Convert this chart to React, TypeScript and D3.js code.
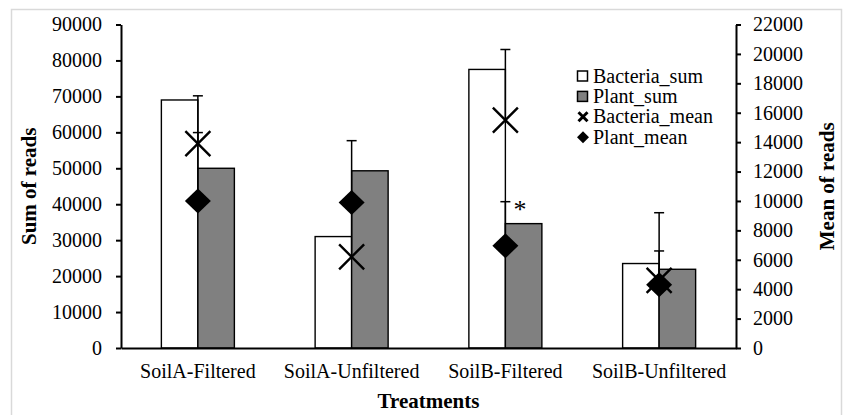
import { useEffect, useRef } from "react";
import * as d3 from "d3";

const categories = ["SoilA-Filtered", "SoilA-Unfiltered", "SoilB-Filtered", "SoilB-Unfiltered"];
const bacteriaSum = [69000, 31000, 77500, 23500];
const plantSum = [50000, 49300, 34600, 21900];
const bacteriaMean = [13900, 6200, 15500, 4600];
const plantMean = [10000, 9900, 6950, 4300];
const bacteriaErr = [3250, 3500, 4800, 4600];
const plantErr = [4650, 4200, 3000, 2300];
const leftTicks = [0, 10000, 20000, 30000, 40000, 50000, 60000, 70000, 80000, 90000];
const rightTicks = [0, 2000, 4000, 6000, 8000, 10000, 12000, 14000, 16000, 18000, 20000, 22000];
const legendLabels = ["Bacteria_sum", "Plant_sum", "Bacteria_mean", "Plant_mean"];

export default function App() {
  const ref = useRef<HTMLDivElement>(null);

  useEffect(() => {
    if (!ref.current) return;
    d3.select(ref.current).selectAll("*").remove();

    const W = 845;
    const H = 415;
    const plot = { left: 121, right: 736, top: 24.5, bottom: 348 };
    const font = "'Liberation Serif', 'Times New Roman', serif";

    const svg = d3
      .select(ref.current)
      .append("svg")
      .attr("width", W)
      .attr("height", H)
      .style("display", "block")
      .style("background", "#fff");

    // chart frame
    svg
      .append("rect")
      .attr("x", 11.5)
      .attr("y", 9.5)
      .attr("width", 830)
      .attr("height", 412)
      .attr("fill", "#fff")
      .attr("stroke", "#d9d9d9")
      .attr("stroke-width", 1.5);

    const x = d3.scaleBand<string>().domain(categories).range([plot.left, plot.right]);
    const yL = d3.scaleLinear().domain([0, 90000]).range([plot.bottom, plot.top]);
    const yR = d3.scaleLinear().domain([0, 22000]).range([plot.bottom, plot.top]);
    const barW = 36.5;
    const cx = (i: number) => (x(categories[i]) || 0) + x.bandwidth() / 2;

    // bars
    const bars = svg.append("g").attr("stroke", "#000").attr("stroke-width", 1.4);
    bars
      .selectAll("rect.b")
      .data(bacteriaSum)
      .enter()
      .append("rect")
      .attr("class", "b")
      .attr("x", (_, i) => cx(i) - barW)
      .attr("y", (d) => yL(d))
      .attr("width", barW)
      .attr("height", (d) => plot.bottom - yL(d))
      .attr("fill", "#fff");
    bars
      .selectAll("rect.p")
      .data(plantSum)
      .enter()
      .append("rect")
      .attr("class", "p")
      .attr("x", (_, i) => cx(i))
      .attr("y", (d) => yL(d))
      .attr("width", barW)
      .attr("height", (d) => plot.bottom - yL(d))
      .attr("fill", "#808080");

    // error bars (plus direction)
    const err = svg.append("g").attr("stroke", "#000").attr("stroke-width", 1.5);
    const drawErr = (means: number[], errs: number[]) => {
      means.forEach((m, i) => {
        const top = yR(m + errs[i]);
        err.append("line").attr("x1", cx(i)).attr("x2", cx(i)).attr("y1", yR(m)).attr("y2", top);
        err.append("line").attr("x1", cx(i) - 5).attr("x2", cx(i) + 5).attr("y1", top).attr("y2", top);
      });
    };
    drawErr(bacteriaMean, bacteriaErr);
    drawErr(plantMean, plantErr);

    // axes
    const fmt = d3.format("d");
    const axL = svg
      .append("g")
      .attr("transform", `translate(${plot.left},0)`)
      .call(d3.axisLeft(yL).tickValues(leftTicks).tickFormat(fmt).tickSize(5).tickSizeOuter(0).tickPadding(14));
    const axR = svg
      .append("g")
      .attr("transform", `translate(${plot.right},0)`)
      .call(d3.axisRight(yR).tickValues(rightTicks).tickFormat(fmt).tickSize(5).tickSizeOuter(0).tickPadding(12));
    const axB = svg
      .append("g")
      .attr("transform", `translate(0,${plot.bottom})`)
      .call(d3.axisBottom(x).tickSize(0).tickSizeOuter(0).tickPadding(16));
    [axL, axR, axB].forEach((a) => {
      a.selectAll("path,line").attr("stroke", "#000").attr("stroke-width", 2);
      a.selectAll("text").attr("fill", "#000").style("font-family", font).style("font-size", "20px");
    });

    // markers
    const xMark = (s: number) => `M${-s},${-s}L${s},${s}M${-s},${s}L${s},${-s}`;
    const diamond = (w: number, h: number) => `M0,${-h}L${w},0L0,${h}L${-w},0Z`;
    svg
      .append("g")
      .selectAll("path")
      .data(bacteriaMean)
      .enter()
      .append("path")
      .attr("transform", (d, i) => `translate(${cx(i)},${yR(d)})`)
      .attr("d", xMark(12.5))
      .attr("stroke", "#000")
      .attr("stroke-width", 2.4)
      .attr("fill", "none");
    svg
      .append("g")
      .selectAll("path")
      .data(plantMean)
      .enter()
      .append("path")
      .attr("transform", (d, i) => `translate(${cx(i)},${yR(d)})`)
      .attr("d", diamond(13, 12.5))
      .attr("fill", "#000");

    // significance mark
    svg
      .append("text")
      .attr("x", cx(2) + 8)
      .attr("y", yR(plantMean[2] + plantErr[2]) + 16)
      .style("font-family", font)
      .style("font-size", "26px")
      .text("*");

    // legend
    const lg = svg.append("g").attr("transform", "translate(577,76)");
    legendLabels.forEach((lab, i) => {
      const row = lg.append("g").attr("transform", `translate(0,${i * 20.4})`);
      if (i === 0 || i === 1) {
        row
          .append("rect")
          .attr("x", 0.5)
          .attr("y", -5)
          .attr("width", 10)
          .attr("height", 10)
          .attr("fill", i === 0 ? "#fff" : "#808080")
          .attr("stroke", "#000")
          .attr("stroke-width", 1.5);
      } else if (i === 2) {
        row.append("path").attr("transform", "translate(6,0)").attr("d", xMark(4.5)).attr("stroke", "#000").attr("stroke-width", 3);
      } else {
        row.append("path").attr("transform", "translate(6,0)").attr("d", diamond(6, 6)).attr("fill", "#000");
      }
      row
        .append("text")
        .attr("x", 16)
        .attr("y", 6.5)
        .style("font-family", font)
        .style("font-size", "20px")
        .text(lab);
    });

    // axis titles
    svg
      .append("text")
      .attr("transform", `translate(36,${(plot.top + plot.bottom) / 2}) rotate(-90)`)
      .attr("text-anchor", "middle")
      .style("font-family", font)
      .style("font-size", "21px")
      .style("font-weight", "bold")
      .text("Sum of reads");
    svg
      .append("text")
      .attr("transform", `translate(834,${(plot.top + plot.bottom) / 2}) rotate(-90)`)
      .attr("text-anchor", "middle")
      .style("font-family", font)
      .style("font-size", "21px")
      .style("font-weight", "bold")
      .text("Mean of reads");
    svg
      .append("text")
      .attr("x", (plot.left + plot.right) / 2)
      .attr("y", 408)
      .attr("text-anchor", "middle")
      .style("font-family", font)
      .style("font-size", "21px")
      .style("font-weight", "bold")
      .text("Treatments");
  }, []);

  return <div ref={ref} style={{ position: "absolute", left: 0, top: 0 }} />;
}
